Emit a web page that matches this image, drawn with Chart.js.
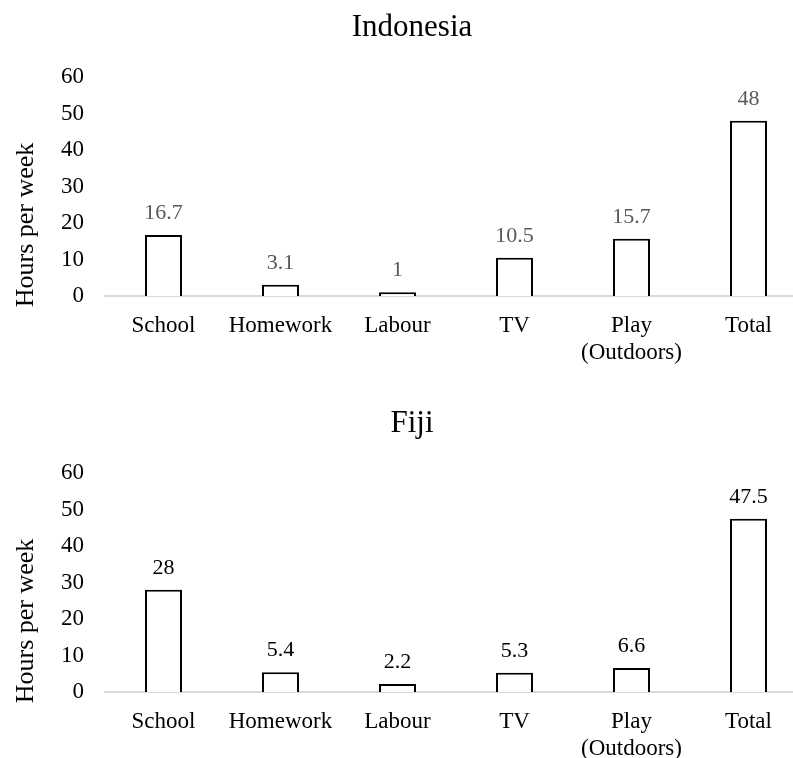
<!DOCTYPE html>
<html>
<head>
<meta charset="utf-8">
<script src="https://cdn.jsdelivr.net/npm/chart.js@4.4.1/dist/chart.umd.min.js"></script>
<style>
html, body { margin: 0; padding: 0; background: #fff; overflow: hidden; }
canvas { position: absolute; left: 0; }
</style>
</head>
<body>
<canvas id="chart1" width="824" height="396" style="top:0px"></canvas>
<canvas id="chart2" width="824" height="396" style="top:396px"></canvas>
<script>
const categories = ["School", "Homework", "Labour", "TV", ["Play", "(Outdoors)"], "Total"];
const indonesiaHours = [16.7, 3.1, 1, 10.5, 15.7, 48];
const fijiHours = [28, 5.4, 2.2, 5.3, 6.6, 47.5];
const yMin = 0, yMax = 60, yStep = 10;
const axisTitle = "Hours per week";

const serif = '"Liberation Serif", "Times New Roman", serif';

// titre, étiquettes de valeurs et titre de l'axe Y
const textPlugin = {
    id: 'textPlugin',
    afterDatasetsDraw(chart, args, opts) {
        const ctx = chart.ctx;
        const area = chart.chartArea;
        ctx.save();

        ctx.fillStyle = '#000';
        ctx.font = '31px ' + serif;
        ctx.textAlign = 'center';
        ctx.textBaseline = 'alphabetic';
        ctx.fillText(opts.title, 412, 36);

        ctx.font = '22px ' + serif;
        ctx.fillStyle = opts.labelColor;
        const values = chart.data.datasets[0].data;
        chart.getDatasetMeta(0).data.forEach((bar, i) => {
            ctx.fillText(String(values[i]), bar.x, bar.y - 16);
        });

        ctx.fillStyle = '#000';
        ctx.font = '26px ' + serif;
        ctx.translate(33, area.bottom - 71);
        ctx.rotate(-Math.PI / 2);
        ctx.fillText(axisTitle, 0, 0);
        ctx.restore();
    }
};

function DrawChart(id, title, data, labelColor)
{
    const ctx = document.getElementById(id).getContext('2d');

    return new Chart(ctx, {
        type: 'bar',
        data: {
            labels: categories,
            datasets: [{
                data: data,
                backgroundColor: '#fff',
                borderColor: '#000',
                borderWidth: 2,
                barPercentage: 0.316,
                categoryPercentage: 1
            }]
        },
        options: {
            responsive: false,
            animation: false,
            devicePixelRatio: 1,
            layout: { padding: { top: 77, right: 17, left: 0, bottom: 0 } },
            plugins: {
                legend: { display: false },
                tooltip: { enabled: false },
                textPlugin: { title: title, labelColor: labelColor }
            },
            scales: {
                x: {
                    grid: { display: false, drawTicks: false },
                    border: { color: '#d9d9d9', width: 2 },
                    ticks: {
                        color: '#000',
                        padding: 16,
                        maxRotation: 0,
                        autoSkip: false,
                        font: { family: serif, size: 23, lineHeight: 1.2 }
                    },
                    afterFit(scale) { scale.height = 100; }
                },
                y: {
                    min: yMin,
                    max: yMax,
                    grid: { display: false, drawTicks: false },
                    border: { display: false },
                    ticks: {
                        stepSize: yStep,
                        color: '#000',
                        padding: 21,
                        font: { family: serif, size: 23 }
                    },
                    afterFit(scale) { scale.width = 105; }
                }
            }
        },
        plugins: [textPlugin]
    });
}

DrawChart("chart1", "Indonesia", indonesiaHours, '#595959');
DrawChart("chart2", "Fiji", fijiHours, '#000');
</script>
</body>
</html>
